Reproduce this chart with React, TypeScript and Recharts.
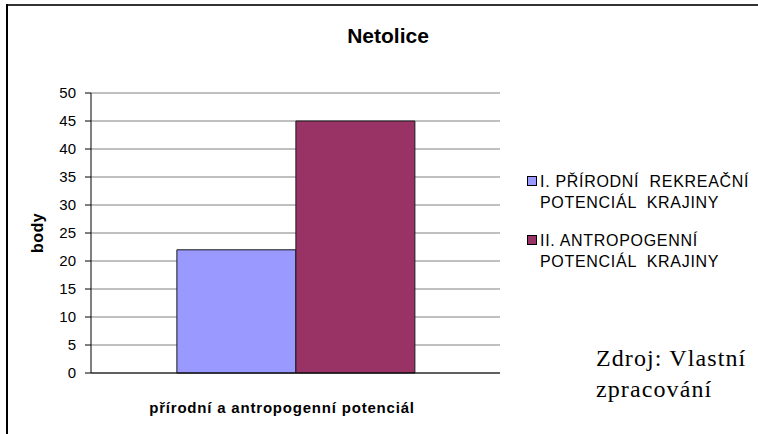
import React from 'react';
import { BarChart, Bar, XAxis, YAxis, CartesianGrid } from 'recharts';

const categories = ['přírodní a antropogenní potenciál'];
const prirodniValues = [22];
const antropogenniValues = [45];
const seriesNames = ['prirodni', 'antropogenni'];
const seriesColors = ['#9999FF', '#993366'];
const legendLines = [
  ['I. PŘÍRODNÍ  REKREAČNÍ', 'POTENCIÁL  KRAJINY'],
  ['II. ANTROPOGENNÍ', 'POTENCIÁL  KRAJINY'],
];
const yTicks = [0, 5, 10, 15, 20, 25, 30, 35, 40, 45, 50];
const titleText = 'Netolice';
const yLabel = 'body';
const xLabel = 'přírodní a antropogenní potenciál';
const sourceLines = ['Zdroj: Vlastní', 'zpracování'];

const data = categories.map((c, i) => ({
  name: c,
  prirodni: prirodniValues[i],
  antropogenni: antropogenniValues[i],
}));

const sans = '"Liberation Sans", Arial, sans-serif';
const serif = '"Liberation Serif", "Times New Roman", serif';

export default function App() {
  return (
    <div style={{ position: 'absolute', left: 0, top: 0, width: 758, height: 434, background: '#fff', overflow: 'hidden' }}>
      <BarChart
        width={758}
        height={434}
        data={data}
        margin={{ top: 93, right: 258, bottom: 31, left: 0 }}
        barCategoryGap="21%"
        barGap={0}
      >
        <CartesianGrid xAxisId="cat" yAxisId="left" vertical={false} stroke="#808080" strokeWidth={1} />
        <XAxis xAxisId="cat" dataKey="name" hide height={0} />
        <XAxis
          xAxisId="edge"
          type="number"
          domain={[0, 1]}
          ticks={[0, 1]}
          tick={false}
          tickLine={{ stroke: '#000' }}
          tickSize={6}
          axisLine={{ stroke: '#000' }}
          height={30}
        />
        <YAxis
          yAxisId="left"
          domain={[0, 50]}
          ticks={yTicks}
          interval={0}
          width={91}
          tickSize={6}
          tickMargin={9}
          axisLine={{ stroke: '#000' }}
          tickLine={{ stroke: '#000' }}
          tick={{ fill: '#000', fontSize: 15, fontFamily: sans }}
        />
        <YAxis
          yAxisId="right"
          orientation="right"
          domain={[0, 50]}
          width={0}
          tick={false}
          tickLine={false}
          axisLine={{ stroke: '#808080' }}
        />
        {seriesNames.map((s, i) => (
          <Bar
            key={s}
            dataKey={s}
            xAxisId="cat"
            yAxisId="left"
            fill={seriesColors[i]}
            stroke="#1a1a1a"
            strokeWidth={1}
            isAnimationActive={false}
          />
        ))}
      </BarChart>
      <svg
        width={758}
        height={434}
        style={{ position: 'absolute', left: 0, top: 0, pointerEvents: 'none' }}
      >
        <line x1={7} y1={5} x2={758} y2={5} stroke="#333" strokeWidth={2} />
        <line x1={7} y1={4} x2={7} y2={434} stroke="#000" strokeWidth={2} />
        <text x={388} y={43} textAnchor="middle" fontFamily={sans} fontWeight="bold" fontSize={21} fill="#000">
          {titleText}
        </text>
        <text
          x={43}
          y={233}
          textAnchor="middle"
          transform="rotate(-90 43 233)"
          fontFamily={sans}
          fontWeight="bold"
          fontSize={16}
          letterSpacing={0.5}
          fill="#000"
        >
          {yLabel}
        </text>
        <text x={282} y={413} textAnchor="middle" fontFamily={sans} fontWeight="bold" fontSize={15} letterSpacing={0.8} fill="#000">
          {xLabel}
        </text>
        {legendLines.map((lines, i) => (
          <g key={i}>
            <rect x={527.5} y={176.5 + i * 59} width={9} height={9} fill={seriesColors[i]} stroke="#000" strokeWidth={1} />
            {lines.map((ln, j) => (
              <text
                key={j}
                x={540}
                y={187 + i * 59 + j * 21}
                fontFamily={sans}
                fontSize={16}
                letterSpacing={0.7}
                fill="#000"
                style={{ whiteSpace: 'pre' }}
              >
                {ln}
              </text>
            ))}
          </g>
        ))}
        {sourceLines.map((ln, j) => (
          <text key={j} x={596} y={366 + j * 31} fontFamily={serif} fontSize={24} letterSpacing={1.1} fill="#000">
            {ln}
          </text>
        ))}
      </svg>
    </div>
  );
}
